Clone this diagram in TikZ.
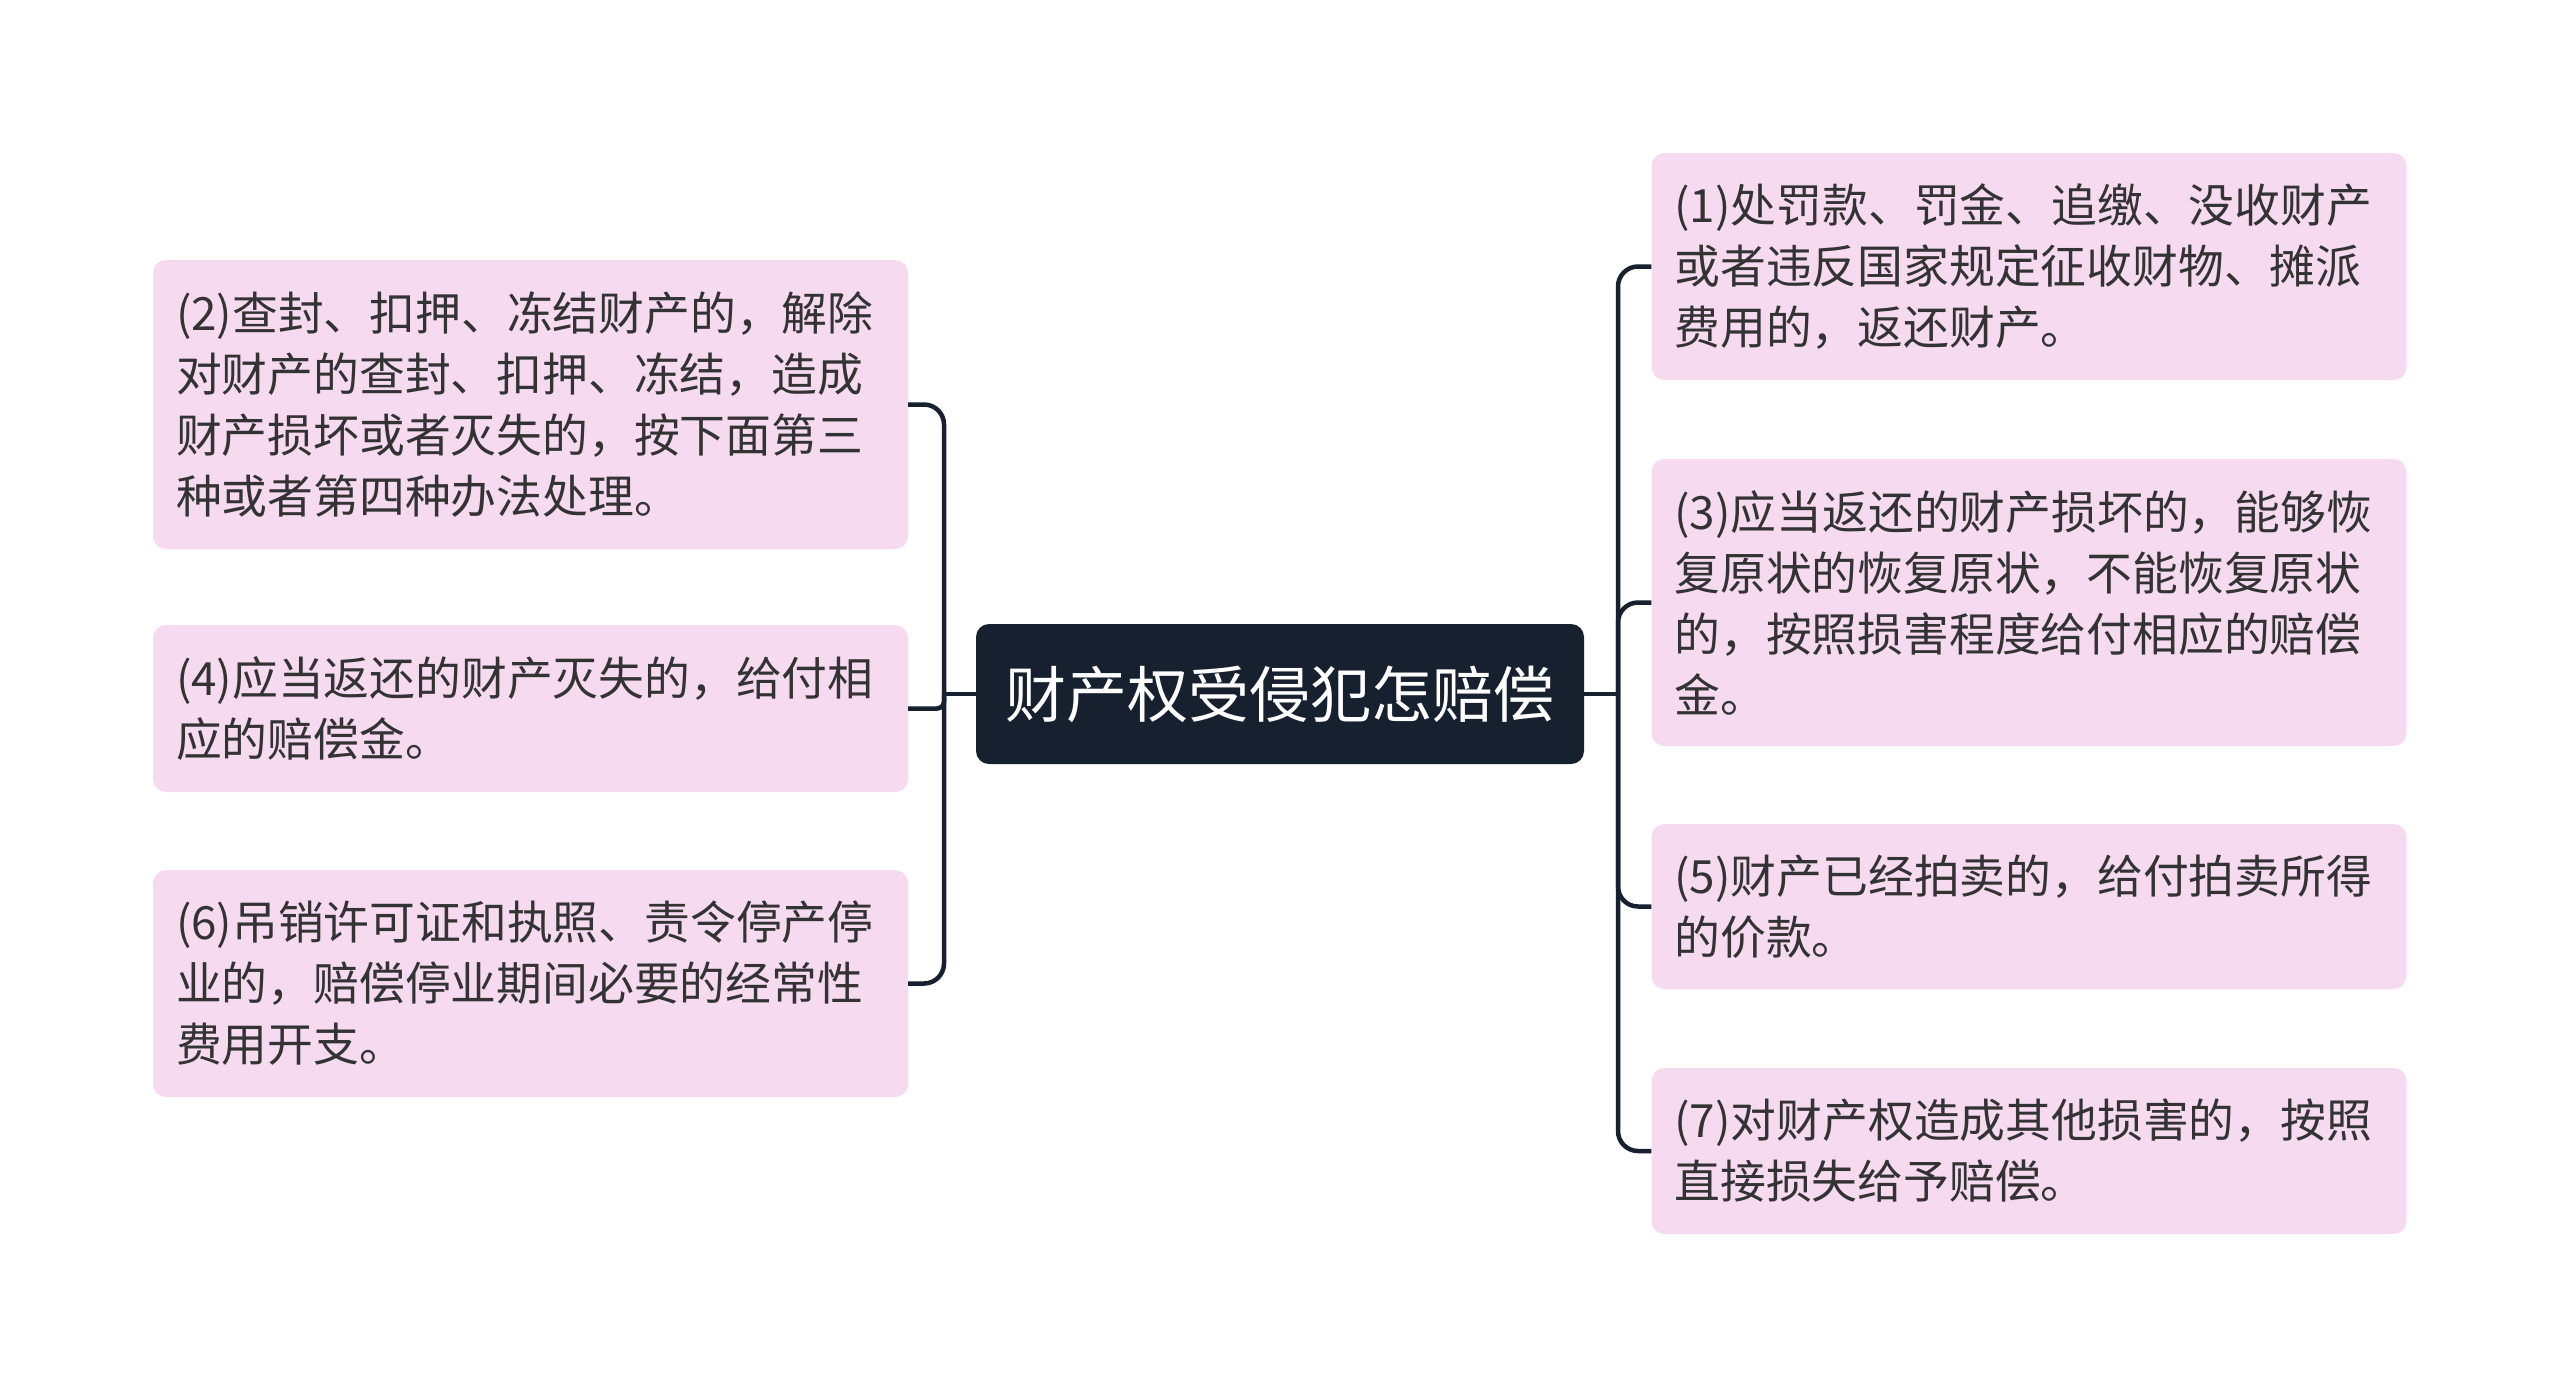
\documentclass[tikz,border=0pt]{standalone}
\usepackage{fontspec}
\newfontfamily\cjk{Noto Sans CJK SC}
\definecolor{navy}{HTML}{16202E}
\definecolor{pinkbox}{HTML}{F6DAF0}
\definecolor{txt}{HTML}{333333}
\tikzset{
  leaf/.style={fill=pinkbox, rounded corners=13pt, inner xsep=23pt, inner ysep=0pt,
    text width=709pt, minimum width=755pt, align=left, text=txt,
    font=\cjk\fontsize{45.8}{61}\selectfont},
  root/.style={fill=navy, rounded corners=13pt, minimum width=608pt, minimum height=140pt,
    inner sep=0pt, text=white, font=\cjk\fontsize{61}{70}\selectfont},
  conn/.style={draw=navy, line width=4.5pt, rounded corners=20pt},
}
\begin{document}
\begin{tikzpicture}[x=1pt,y=-1pt]
\useasboundingbox (0,0) rectangle (2560,1387);
\fill[white] (0,0) rectangle (2560,1387);

\node[root] (c) at (1280,694) {财产权受侵犯怎赔偿};

\node[leaf, minimum height=289pt] (b2) at (530.5,404.5) {(2)查封、扣押、冻结财产的，解除\\对财产的查封、扣押、冻结，造成\\财产损坏或者灭失的，按下面第三\\种或者第四种办法处理。};
\node[leaf, minimum height=167pt] (b4) at (530.5,708.5) {(4)应当返还的财产灭失的，给付相\\应的赔偿金。};
\node[leaf, minimum height=227pt] (b6) at (530.5,983.5) {(6)吊销许可证和执照、责令停产停\\业的，赔偿停业期间必要的经常性\\费用开支。};

\node[leaf, minimum height=227pt] (b1) at (2029,266.5) {(1)处罚款、罚金、追缴、没收财产\\或者违反国家规定征收财物、摊派\\费用的，返还财产。};
\node[leaf, minimum height=287pt] (b3) at (2029,602.5) {(3)应当返还的财产损坏的，能够恢\\复原状的恢复原状，不能恢复原状\\的，按照损害程度给付相应的赔偿\\金。};
\node[leaf, minimum height=165pt] (b5) at (2029,906.5) {(5)财产已经拍卖的，给付拍卖所得\\的价款。};
\node[leaf, minimum height=166pt] (b7) at (2029,1151) {(7)对财产权造成其他损害的，按照\\直接损失给予赔偿。};

\coordinate (lj) at (944,694);
\coordinate (rj) at (1618,694);

\draw[conn] (c.west) -- (lj);
\draw[conn] (c.east) -- (rj);

\draw[conn] (lj) |- (b2.east);
\draw[conn, rounded corners=7pt] (lj) |- (b4.east);
\draw[conn] (lj) |- (b6.east);

\draw[conn] (rj) |- (b1.west);
\draw[conn] (rj) |- (b3.west);
\draw[conn] (rj) |- (b5.west);
\draw[conn] (rj) |- (b7.west);
\end{tikzpicture}
\end{document}
